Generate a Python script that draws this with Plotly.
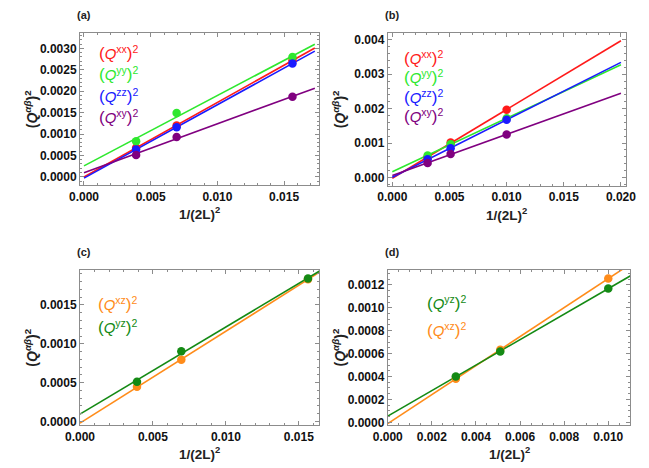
import numpy as np
import plotly.graph_objects as go

W, H = 649, 468

# ---------------- data ----------------
# panel (a) and (c): L = 8, 6, 4
x_ac = [1/256, 1/144, 1/64]
a_xx = [0.00068, 0.00120, 0.00272]
a_yy = [0.00083, 0.00149, 0.00280]
a_zz = [0.00064, 0.00116, 0.00265]
a_xy = [0.00051, 0.00093, 0.00187]

# panel (b) and (d): L = 9, 7, 5
x_bd = [1/324, 1/196, 1/100]
b_xx = [0.00058, 0.00102, 0.00197]
b_yy = [0.00064, 0.00097, 0.00172]
b_zz = [0.00053, 0.00085, 0.00168]
b_xy = [0.00042, 0.00068, 0.00125]

c_xz = [0.000446, 0.000794, 0.00183]
c_yz = [0.00051, 0.000905, 0.00184]

d_yz = [0.00040, 0.000619, 0.001168]
d_xz = [0.00038, 0.000633, 0.001255]

RED = "#ff1a1a"
GREEN = "#2ee82e"
BLUE = "#1a1aff"
PURPLE = "#800080"
ORANGE = "#ff8c1a"
DGREEN = "#148a14"

panels = [
    dict(key="a", x=x_ac,
         series=[("xx", a_xx, RED), ("yy", a_yy, GREEN), ("zz", a_zz, BLUE), ("xy", a_xy, PURPLE)],
         legend=[("xx", RED), ("yy", GREEN), ("zz", BLUE), ("xy", PURPLE)],
         xr=[-0.0003, 0.0176], yr=[-0.0002, 0.00336], xend=0.0173,
         yfmt=".4f", dx=0.005, dy=0.0005,
         px=(67.7, 316.5), py=(33.3, 187.0),
         leg_x=85, leg_y=[53, 74.5, 96.5, 118]),
    dict(key="b", x=x_bd,
         series=[("xx", b_xx, RED), ("yy", b_yy, GREEN), ("zz", b_zz, BLUE), ("xy", b_xy, PURPLE)],
         legend=[("xx", RED), ("yy", GREEN), ("zz", BLUE), ("xy", PURPLE)],
         xr=[-0.0004, 0.0204], yr=[-0.00025, 0.0042], xend=0.020,
         yfmt=".3f", dx=0.005, dy=0.001,
         px=(388.3, 636.0), py=(33.3, 187.7),
         leg_x=403, leg_y=[58, 78, 97.5, 117]),
    dict(key="c", x=x_ac,
         series=[("xz", c_xz, ORANGE), ("yz", c_yz, DGREEN)],
         legend=[("xz", ORANGE), ("yz", DGREEN)],
         xr=[0.0, 0.0164], yr=[-0.00005, 0.00195], xend=0.0166,
         yfmt=".4f", dx=0.005, dy=0.0005,
         px=(67.7, 317.0), py=(272.3, 429.0),
         leg_x=84, leg_y=[307, 330]),
    dict(key="d", x=x_bd,
         series=[("xz", d_xz, ORANGE), ("yz", d_yz, DGREEN)],
         legend=[("yz", DGREEN), ("xz", ORANGE)],
         xr=[0.0, 0.011], yr=[-0.000026, 0.00133], xend=0.0111,
         yfmt=".4f", dx=0.002, dy=0.0002,
         px=(388.3, 641.0), py=(272.3, 429.0),
         leg_x=427, leg_y=[306, 333]),
]

fig = go.Figure()
annotations = []
TICKFONT = dict(family="Liberation Sans", size=12, color="#111111", weight="bold")
FRAME = "#8c8c8c"
PAR = "<span style='font-size:17px'>%s</span>"

for i, p in enumerate(panels):
    n = "" if i == 0 else str(i + 1)
    xa, ya = "x" + n, "y" + n
    for name, vals, col in p["series"]:
        slope, icpt = np.polyfit(p["x"], vals, 1)
        xs = np.array([0.0, p["xend"]])
        fig.add_trace(go.Scatter(x=xs, y=icpt + slope * xs, mode="lines",
                                 line=dict(color=col, width=1.6), xaxis=xa, yaxis=ya,
                                 showlegend=False, hoverinfo="skip"))
    for name, vals, col in p["series"]:
        fig.add_trace(go.Scatter(x=p["x"], y=vals, mode="markers",
                                 marker=dict(color=col, size=8.5), xaxis=xa, yaxis=ya,
                                 showlegend=False, cliponaxis=False))
    x0, x1 = p["px"]
    y0, y1 = p["py"]
    axx = dict(domain=[x0 / W, x1 / W], range=p["xr"], anchor=ya,
               showgrid=False, zeroline=False, showline=True, linecolor=FRAME, linewidth=1,
               mirror="allticks", ticks="inside", ticklen=4, tickwidth=1, tickcolor=FRAME,
               tick0=0, dtick=p["dx"], tickformat=".3f", tickfont=TICKFONT,
               minor=dict(ticks="inside", ticklen=2, nticks=5, tickcolor=FRAME, showgrid=False),
               fixedrange=True)
    axy = dict(domain=[1 - y1 / H, 1 - y0 / H], range=p["yr"], anchor=xa,
               showgrid=False, zeroline=False, showline=True, linecolor=FRAME, linewidth=1,
               mirror="allticks", ticks="inside", ticklen=4, tickwidth=1, tickcolor=FRAME,
               tick0=0, dtick=p["dy"], tickformat=p["yfmt"], tickfont=TICKFONT,
               minor=dict(ticks="inside", ticklen=2, nticks=5, tickcolor=FRAME, showgrid=False),
               fixedrange=True)
    fig.layout["xaxis" + n] = axx
    fig.layout["yaxis" + n] = axy

    # legend labels
    for (name, col), ly in zip(p["legend"], p["leg_y"]):
        annotations.append(dict(
            text=(PAR % "(") + "<i>Q</i><sup>%s</sup>" % name + (PAR % ")") + "<sup>2</sup>",
            x=p["leg_x"] / W, y=1 - ly / H, xref="paper", yref="paper",
            xanchor="left", yanchor="middle", showarrow=False,
            font=dict(family="Liberation Sans", size=15, color=col)))
    # x title
    annotations.append(dict(
        text="<b>1/(2L)</b><sup><b>2</b></sup>",
        x=(x0 + x1) / 2 / W, y=1 - (y1 + 28) / H, xref="paper", yref="paper",
        xanchor="center", yanchor="middle", showarrow=False,
        font=dict(family="Liberation Sans", size=13.5, color="#222222")))
    # y title
    annotations.append(dict(
        text="<b>(<i>Q</i></b><sup><b><i>αβ</i></b></sup><b>)</b><sup><b>2</b></sup>",
        x=(x0 - 51) / W, y=1 - (y0 + y1) / 2 / H, xref="paper", yref="paper",
        xanchor="center", yanchor="middle", showarrow=False, textangle=-90,
        font=dict(family="Liberation Sans", size=14, color="#222222")))
    # panel tag
    annotations.append(dict(
        text="<b>(%s)</b>" % p["key"],
        x=(x0 + 4) / W, y=1 - (y0 - 18) / H, xref="paper", yref="paper",
        xanchor="center", yanchor="middle", showarrow=False,
        font=dict(family="Liberation Sans", size=11, color="#222222")))

fig.update_layout(
    width=W, height=H, margin=dict(l=0, r=0, t=0, b=0),
    paper_bgcolor="white", plot_bgcolor="white",
    annotations=annotations, showlegend=False,
)

fig.write_html("out.html", config=dict(displayModeBar=False))
